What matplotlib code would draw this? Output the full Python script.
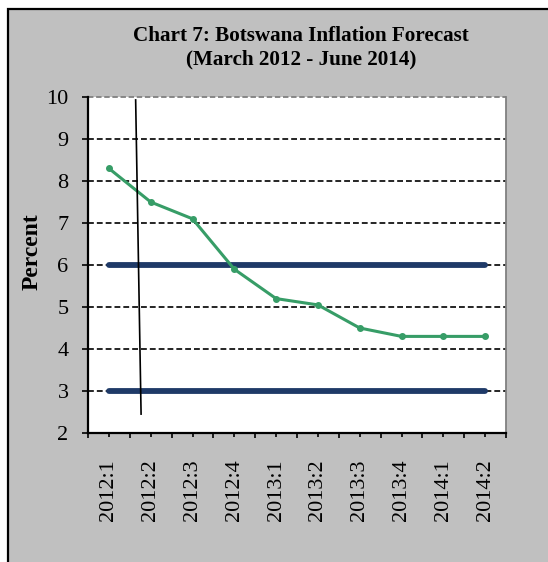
import matplotlib
matplotlib.use("Agg")
import matplotlib.pyplot as plt
from matplotlib.patches import Rectangle
from matplotlib.ticker import FixedLocator

plt.rcParams['font.family'] = ['Liberation Serif', 'DejaVu Serif']

quarters = ['2012:1', '2012:2', '2012:3', '2012:4', '2013:1',
            '2013:2', '2013:3', '2013:4', '2014:1', '2014:2']
inflation_forecast = [8.3, 7.5, 7.1, 5.9, 5.2, 5.05, 4.5, 4.3, 4.3, 4.3]
objective_upper = [6, 6, 6, 6, 6, 6, 6, 6, 6, 6]
objective_lower = [3, 3, 3, 3, 3, 3, 3, 3, 3, 3]
# hand drawn divider line on the original chart (data units)
divider_x = [0.64, 0.77]
divider_y = [9.93, 2.45]
y_ticks = [2, 3, 4, 5, 6, 7, 8, 9, 10]

fig = plt.figure(figsize=(5.48, 5.62), dpi=100)
fig.patch.set_facecolor('white')

# grey chart area with black frame (clipped on right and bottom)
frame = Rectangle((8 / 548, -0.1), 1.2, 1.1 - 8.8 / 562, transform=fig.transFigure,
                  facecolor='#C0C0C0', edgecolor='black', linewidth=1.6, zorder=-5)
fig.patches.append(frame)

ax = fig.add_axes([88 / 548, 1 - 433 / 562, 418 / 548, 336 / 562])
ax.set_zorder(2)
ax.set_facecolor('white')

x = list(range(len(quarters)))

for yv in y_ticks[1:-1]:
    ax.axhline(yv, color='black', linewidth=1.2, linestyle=(0, (3.5, 1.8)), zorder=1)
ax.axhline(10, color='#808080', linewidth=1.3, linestyle=(0, (3, 1.5)), zorder=1, clip_on=False)

ax.plot(x, objective_upper, color='#1F3A68', linewidth=4.2, solid_capstyle='round', zorder=3)
ax.plot(x, objective_lower, color='#1F3A68', linewidth=4.2, solid_capstyle='round', zorder=3)
ax.plot(x, inflation_forecast, color='#379D67', linewidth=2.2, marker='o', markersize=4, zorder=4)
ax.plot(divider_x, divider_y, color='black', linewidth=1.2, zorder=5)

ax.set_xlim(-0.5, len(quarters) - 0.5)
ax.set_ylim(2, 10)

ax.set_yticks(y_ticks)
ax.set_yticklabels([str(v) for v in y_ticks], fontsize=16)
ax.set_xticks(x)
ax.set_xticklabels(quarters, rotation=90, fontsize=16)
ax.xaxis.set_minor_locator(FixedLocator([i - 0.5 for i in range(len(quarters) + 1)]))

ax.tick_params(axis='y', direction='out', length=4, width=1.2, pad=10, colors='black')
ax.tick_params(axis='x', which='major', direction='out', length=3, width=1.2, pad=16)
ax.tick_params(axis='x', which='minor', direction='out', length=3.5, width=1.2)

ax.spines['top'].set_visible(False)
ax.spines['right'].set_color('#808080')
ax.spines['right'].set_linewidth(1.3)
ax.spines['left'].set_linewidth(1.6)
ax.spines['bottom'].set_linewidth(1.6)

fig.text(0.549, 1 - 36 / 562, 'Chart 7: Botswana Inflation Forecast',
         ha='center', va='center', fontsize=15.2, fontweight='bold')
fig.text(0.549, 1 - 59 / 562, '(March 2012 - June 2014)',
         ha='center', va='center', fontsize=15.2, fontweight='bold')
fig.text(32 / 548, 1 - 252 / 562, 'Percent', rotation=90,
         ha='center', va='center', fontsize=17, fontweight='bold')

fig.savefig('out.png', dpi=100, facecolor=fig.get_facecolor())
